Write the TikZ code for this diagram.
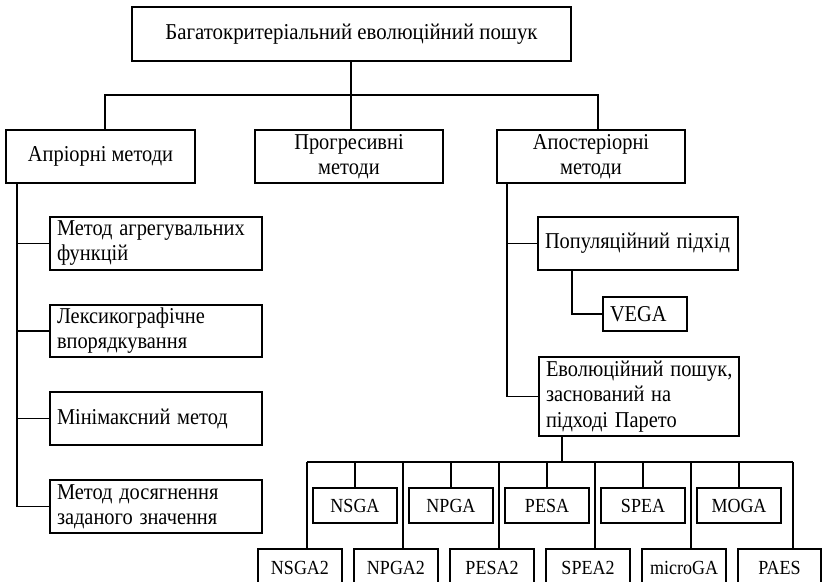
\documentclass[tikz,border=0pt]{standalone}
\usepackage{graphicx}
\usepackage{fontspec}
\setmainfont{Liberation Serif}
\newcommand\pxu{0.75pt}
\newcommand\cn[1]{\scalebox{0.9}[1]{#1}}
\tikzset{
  base/.style={draw, line width=1.3pt, inner sep=0pt, font=\fontsize{17}{18.75}\selectfont},
  cbox/.style={base, align=center},
  lbox/.style={base, align=left, inner xsep=5.25pt},
  alg/.style={base, minimum width=84*\pxu, minimum height=35*\pxu, font=\fontsize{15}{16}\selectfont},
  conn/.style={line width=1.3pt},
}
\begin{document}
\begin{tikzpicture}[x=\pxu, y=-\pxu]
\clip (0,0) rectangle (822,582);
\fill[white] (0,0) rectangle (822,582);
% top level
\node[cbox, minimum width=439*\pxu, minimum height=54*\pxu] (top) at (351.5,34) {\scalebox{0.92}[1]{Багатокритеріальний еволюційний пошук}};
\node[cbox, minimum width=189*\pxu, minimum height=53*\pxu] (apr) at (100.5,156.5) {\cn{Апріорні методи}};
\node[cbox, minimum width=188*\pxu, minimum height=53*\pxu] (prog) at (349,156.5) {\cn{Прогресивні}\\\cn{методи}};
\node[cbox, minimum width=188*\pxu, minimum height=53*\pxu] (apost) at (591,156.5) {\cn{Апостеріорні}\\\cn{методи}};
\coordinate (bl) at (105,95);
\coordinate (bm) at (351,95);
\coordinate (br) at (598,95);
\draw[conn] (top.south -| bm) -- (bm);
\draw[conn] (apr.north -| bl) -- (bl) -- (br) -- (apost.north -| br);
\draw[conn] (bm) -- (prog.north -| bm);
% left branch
\node[lbox, text width=148.5pt, minimum height=53*\pxu] (m1) at (156,243.5) {\cn{Метод агрегувальних}\\\cn{функцій}};
\node[lbox, text width=148.5pt, minimum height=52*\pxu] (m2) at (156,331) {\cn{Лексикографічне}\\\cn{впорядкування}};
\node[lbox, text width=148.5pt, minimum height=53*\pxu] (m3) at (156,418.5) {\cn{Мінімаксний метод}};
\node[lbox, text width=148.5pt, minimum height=53*\pxu] (m4) at (156,506.5) {\cn{Метод досягнення}\\\cn{заданого значення}};
\coordinate (lsp) at (17,0);
\draw[conn] (apr.south -| lsp) -- (lsp |- m4.west) -- (m4.west);
\draw[conn] (m1.west -| lsp) -- (m1.west);
\draw[conn] (m2.west -| lsp) -- (m2.west);
\draw[conn] (m3.west -| lsp) -- (m3.west);
% right branch
\node[lbox, text width=139.5pt, minimum height=53*\pxu] (pop) at (638,243.5) {\cn{Популяційний підхід}};
\node[lbox, text width=52.5pt, minimum height=34*\pxu] (vega) at (645,314) {\cn{VEGA}};
\node[lbox, text width=139.5pt, minimum height=79*\pxu, font=\fontsize{17}{19.25}\selectfont] (par) at (639,396.5) {\cn{Еволюційний пошук,}\\\cn{заснований на}\\\cn{підході Парето}};
\coordinate (rsp) at (507,0);
\draw[conn] (apost.south -| rsp) -- (rsp |- par.west) -- (par.west);
\draw[conn] (pop.west -| rsp) -- (pop.west);
\coordinate (vx) at (572,0);
\draw[conn] (pop.south -| vx) |- (vega.west);
% algorithms
\coordinate (pd) at (562,462);
\draw[conn] (par.south -| pd) -- (pd);
\coordinate (busL) at (307,462);
\coordinate (busR) at (793,462);
\draw[conn] (busL) -- (busR);
\node[alg] (u1) at (355,505.5) {\cn{NSGA}};
\node[alg] (u2) at (451,505.5) {\cn{NPGA}};
\node[alg] (u3) at (547,505.5) {\cn{PESA}};
\node[alg] (u4) at (643,505.5) {\cn{SPEA}};
\node[alg] (u5) at (739,505.5) {\cn{MOGA}};
\foreach \u in {u1,u2,u3,u4,u5} \draw[conn] (\u.north |- pd) -- (\u.north);
\node[alg, minimum height=38*\pxu] (l1) at (300,568) {\cn{NSGA2}};
\node[alg, minimum height=38*\pxu] (l2) at (396,568) {\cn{NPGA2}};
\node[alg, minimum height=38*\pxu] (l3) at (492,568) {\cn{PESA2}};
\node[alg, minimum height=38*\pxu] (l4) at (588,568) {\cn{SPEA2}};
\node[alg, minimum height=38*\pxu] (l5) at (684,568) {\cn{microGA}};
\node[alg, minimum height=38*\pxu, minimum width=83*\pxu] (l6) at (779.5,568) {\cn{PAES}};
\coordinate (d1) at (307,462);
\coordinate (d2) at (403,462);
\coordinate (d3) at (499,462);
\coordinate (d4) at (595,462);
\coordinate (d5) at (691,462);
\coordinate (d6) at (793,462);
\draw[conn] (d1) -- (d1 |- l1.north);
\draw[conn] (d2) -- (d2 |- l2.north);
\draw[conn] (d3) -- (d3 |- l3.north);
\draw[conn] (d4) -- (d4 |- l4.north);
\draw[conn] (d5) -- (d5 |- l5.north);
\draw[conn] (d6) -- (d6 |- l6.north);
\end{tikzpicture}
\end{document}
